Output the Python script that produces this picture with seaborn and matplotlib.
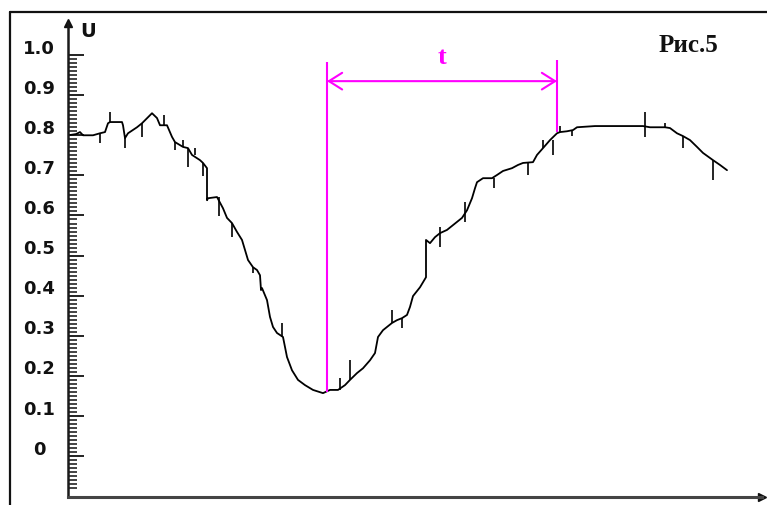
import numpy as np
import pandas as pd
import matplotlib
matplotlib.use("Agg")
import matplotlib.pyplot as plt
from matplotlib.lines import Line2D
from matplotlib.ticker import FixedLocator
import seaborn as sns

# ---- data ----
t_vals = [0, 8, 12, 15, 25, 32, 37, 40, 42, 54, 55, 57, 60, 69, 74, 80, 84, 89, 92, 99,
          104, 107, 115, 120, 124, 132, 135, 139, 139, 140, 149, 155, 159, 164, 169, 174,
          177, 180, 185, 189, 192, 193, 194, 199, 202, 205, 209, 215, 219, 224, 230, 237,
          245, 255, 262, 270, 277, 282, 289, 295, 302, 307, 310, 315, 319, 324, 329, 334,
          339, 342, 345, 352, 358, 358, 362, 367, 372, 379, 385, 394, 399, 404, 407, 409,
          415, 424, 429, 435, 444, 450, 455, 465, 469, 475, 482, 489, 492, 499, 505, 509,
          527, 575, 582, 597, 602, 609, 615, 622, 629, 635, 645, 652, 659]
u_vals = [0.800, 0.803, 0.808, 0.800, 0.800, 0.805, 0.808, 0.830, 0.833, 0.833, 0.825,
          0.793, 0.805, 0.820, 0.830, 0.845, 0.855, 0.843, 0.825, 0.825, 0.796, 0.783,
          0.771, 0.768, 0.751, 0.738, 0.731, 0.718, 0.638, 0.643, 0.646, 0.618, 0.594,
          0.581, 0.559, 0.539, 0.514, 0.489, 0.471, 0.464, 0.451, 0.414, 0.419, 0.389,
          0.347, 0.322, 0.307, 0.297, 0.247, 0.214, 0.190, 0.177, 0.165, 0.157, 0.165,
          0.165, 0.177, 0.190, 0.207, 0.219, 0.239, 0.257, 0.297, 0.314, 0.322, 0.332,
          0.339, 0.344, 0.352, 0.372, 0.399, 0.421, 0.446, 0.539, 0.531, 0.546, 0.556,
          0.564, 0.576, 0.594, 0.613, 0.643, 0.668, 0.683, 0.693, 0.693, 0.701, 0.711,
          0.718, 0.726, 0.731, 0.733, 0.751, 0.768, 0.788, 0.805, 0.808, 0.810, 0.813,
          0.820, 0.823, 0.823, 0.820, 0.820, 0.818, 0.805, 0.798, 0.788, 0.771, 0.756,
          0.738, 0.726, 0.713]

# noise spikes: position, low, high
spike_t = [32, 42, 57, 74, 96, 107, 115, 120, 127, 135, 151, 164, 185, 214, 272, 282,
           324, 334, 372, 397, 426, 460, 475, 485, 492, 504, 577, 597, 615, 645]
spike_lo = [0.781, 0.833, 0.768, 0.796, 0.825, 0.763, 0.771, 0.721, 0.751, 0.698, 0.598,
            0.546, 0.456, 0.297, 0.165, 0.190, 0.332, 0.319, 0.521, 0.584, 0.668, 0.701,
            0.768, 0.751, 0.808, 0.798, 0.796, 0.820, 0.768, 0.688]
spike_hi = [0.805, 0.858, 0.793, 0.830, 0.850, 0.783, 0.788, 0.768, 0.768, 0.731, 0.646,
            0.581, 0.471, 0.332, 0.195, 0.239, 0.364, 0.344, 0.571, 0.633, 0.693, 0.733,
            0.788, 0.788, 0.823, 0.813, 0.858, 0.830, 0.798, 0.738]

tick_values = [1.0, 0.9, 0.8, 0.7, 0.6, 0.5, 0.4, 0.3, 0.2, 0.1, 0.0]
tick_labels = ["1.0", "0.9", "0.8", "0.7", "0.6", "0.5", "0.4", "0.3", "0.2", "0.1", "0"]
minor_ticks = [i / 100 for i in range(-8, 101)]

# interval t marked on the chart
t_start, t_end = 259, 489
t_start_u, t_end_u = 0.160, 0.808
t_top = 0.983
t_arrow_u = 0.935

axis_label = "U"
fig_label = "Рис.5"
interval_label = "t"

# ---- drawing ----
sns.set_style("white")
plt.rcParams["font.family"] = ["DejaVu Sans"]

W, H = 767, 505
fig = plt.figure(figsize=(W / 100, H / 100), dpi=100)
ax = fig.add_axes([68 / W, 8 / H, 694 / W, 474 / H])
ax.set_xlim(0, 694)
ax.set_ylim(-0.102, 1.080)

df = pd.DataFrame({"t": t_vals, "U": u_vals})
sns.lineplot(data=df, x="t", y="U", ax=ax, sort=False, estimator=None,
             color="black", linewidth=1.3)
ax.vlines(spike_t, spike_lo, spike_hi, color="black", linewidth=1.2)

# spines
for s in ["top", "right"]:
    ax.spines[s].set_visible(False)
ax.spines["left"].set_color("#1a1a1a")
ax.spines["left"].set_linewidth(1.8)
ax.spines["bottom"].set_color("#444444")
ax.spines["bottom"].set_linewidth(2.2)
ax.plot([0], [1.0], marker="^", transform=ax.transAxes, clip_on=False,
        color="#111111", markersize=6)
ax.plot([1.0], [0], marker=">", transform=ax.transAxes, clip_on=False,
        color="#111111", markersize=6)

# ticks
ax.set_xticks([])
ax.set_yticks(tick_values)
ax.yaxis.set_minor_locator(FixedLocator(minor_ticks))
ax.tick_params(axis="y", which="major", direction="in", length=11.5, width=1.3,
               color="#111111", labelleft=False, left=True)
ax.tick_params(axis="y", which="minor", direction="in", length=6.5, width=1.1,
               color="#111111", left=True)
ax.set_xlabel("")
ax.set_ylabel("")
for v, lab in zip(tick_values, tick_labels):
    ax.text(-29 / 694, v + 0.016, lab, transform=ax.get_yaxis_transform(),
            ha="center", va="center", fontsize=13, fontweight="bold", color="#111111")

ax.text(20 / 694, 1.06, axis_label, transform=ax.get_yaxis_transform(),
        ha="center", va="center", fontsize=14, fontweight="bold", color="#111111")

# magenta interval
mag = "#ff00ff"
ax.vlines([t_start], t_start_u, t_top, color=mag, linewidth=1.5)
ax.vlines([t_end], t_end_u, t_top + 0.005, color=mag, linewidth=1.5)
ax.annotate("", xy=(t_start, t_arrow_u), xytext=(t_end, t_arrow_u),
            arrowprops=dict(arrowstyle="<->,head_length=0.95,head_width=0.6",
                            color=mag, linewidth=1.5, mutation_scale=10,
                            shrinkA=0, shrinkB=0))
ax.text((t_start + t_end) / 2, 0.995, interval_label, ha="center", va="center",
        fontsize=19, fontweight="bold", color=mag, family=["Liberation Serif"])

ax.text(620, 1.025, fig_label, ha="center", va="center", fontsize=18,
        fontweight="bold", color="#111111", family=["Liberation Serif"])

# outer frame (left and top edges)
fig.add_artist(Line2D([10 / W, 10 / W], [0, 1 - 12 / H], transform=fig.transFigure,
                      color="#111111", linewidth=1.6))
fig.add_artist(Line2D([10 / W, 1], [1 - 12 / H, 1 - 12 / H], transform=fig.transFigure,
                      color="#111111", linewidth=1.6))

fig.savefig("out.png", dpi=100)
